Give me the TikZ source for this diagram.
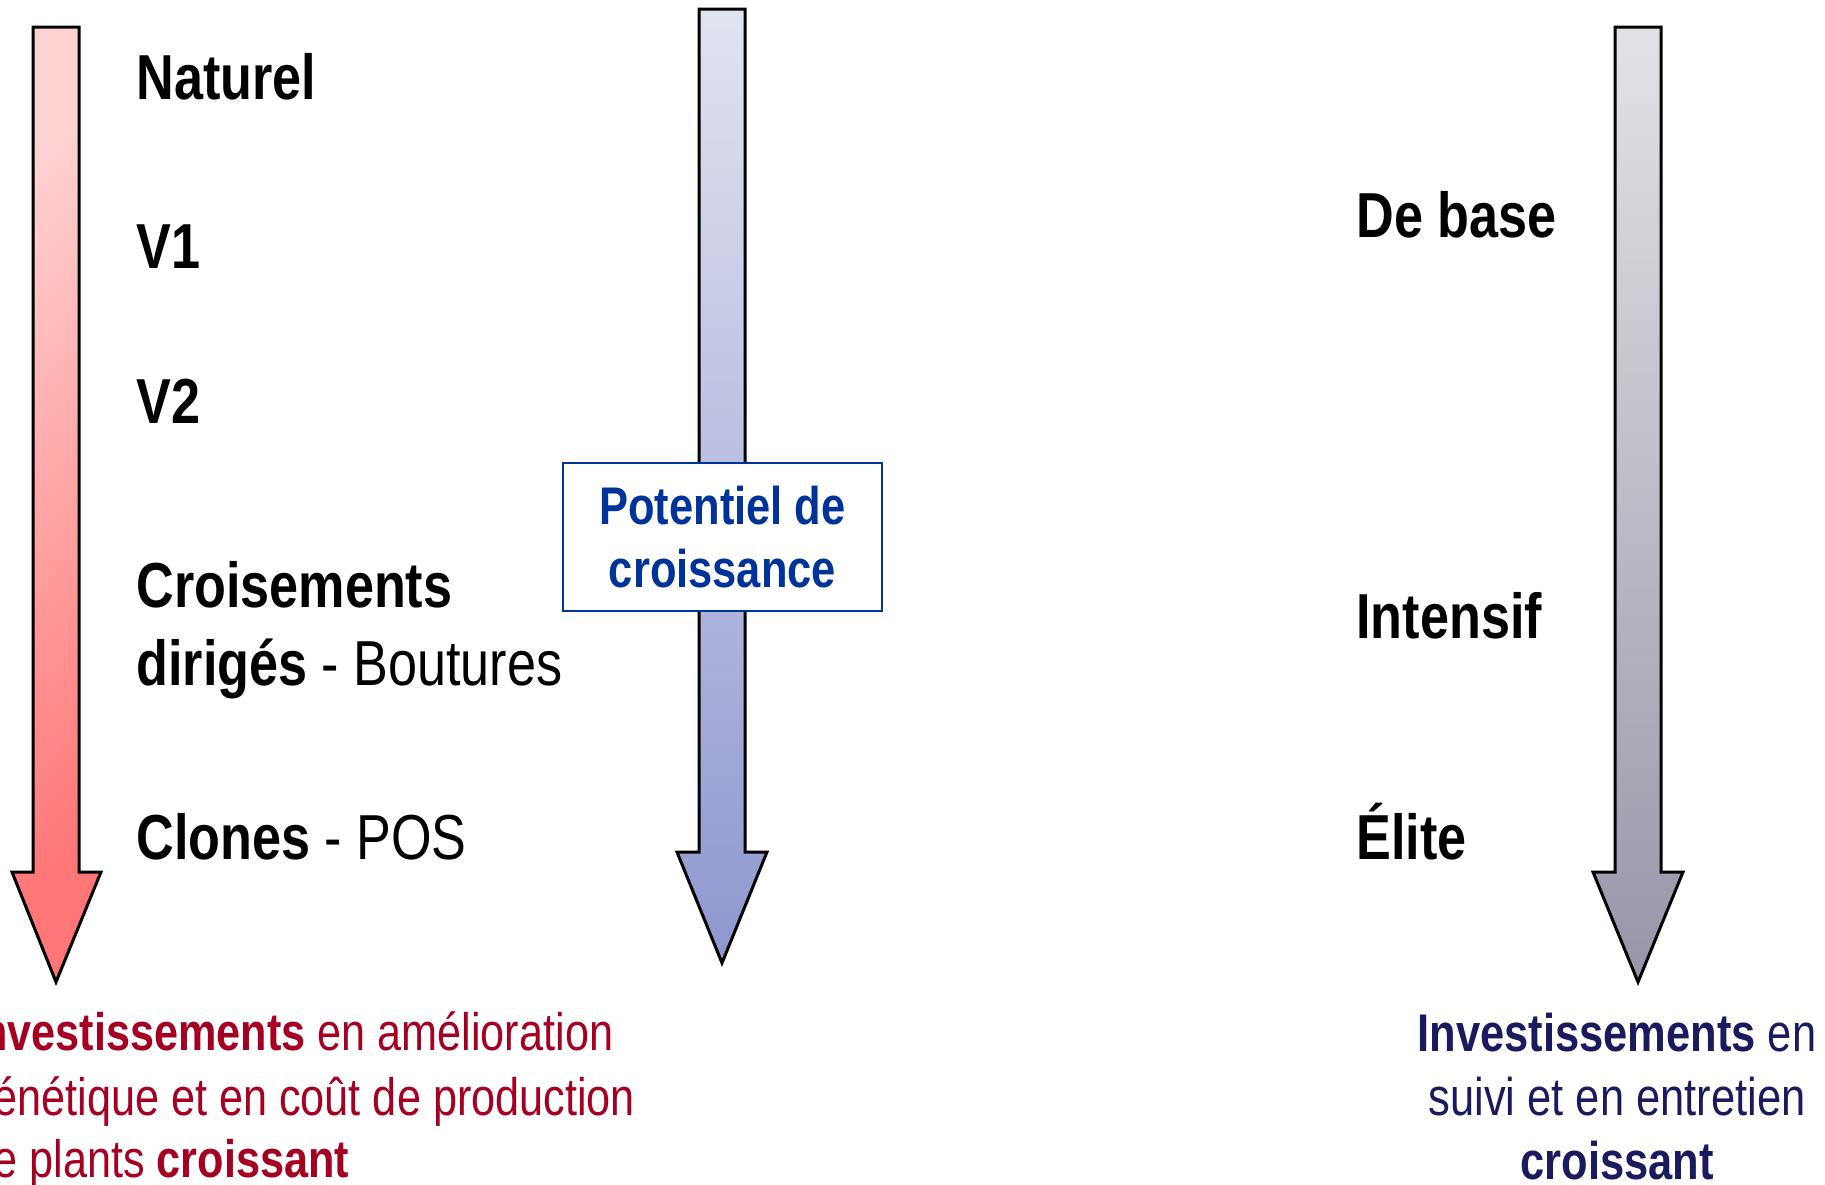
\documentclass[tikz,border=0pt]{standalone}
\usepackage{fontspec}
\setmainfont{Liberation Sans}[FakeStretch=0.82]
\definecolor{redtxt}{HTML}{A50021}
\definecolor{navytxt}{HTML}{1A1A5E}
\definecolor{boxblue}{HTML}{003399}
\definecolor{redA}{HTML}{FFD2D2}
\definecolor{redB}{HTML}{FF7676}
\definecolor{bluA}{HTML}{E2E3F0}
\definecolor{bluB}{HTML}{8E97CF}
\definecolor{gryA}{HTML}{E2E2E6}
\definecolor{gryB}{HTML}{9696A8}
\tikzset{
  bigarrow/.style={draw=black,line width=1.5pt,line join=miter},
  lbl/.style={anchor=base west,inner sep=0pt,font=\fontsize{31.8}{38}\selectfont},
  redline/.style={anchor=base west,inner sep=0pt,text=redtxt,font=\fontsize{26.35}{32}\selectfont},
  navyline/.style={anchor=base,inner sep=0pt,text=navytxt,font=\fontsize{26.5}{32}\selectfont},
}
\begin{document}
\begin{tikzpicture}[x=0.5pt,y=-0.5pt]
\useasboundingbox (0,0) rectangle (1825,1184);
% arrows
\path[bigarrow,top color=redA,bottom color=redB,shading angle=45]
  (33,27) -- (79,27) -- (79,872) -- (101,872) -- (56,982) -- (12,872) -- (33,872) -- cycle;
\path[bigarrow,top color=bluA,bottom color=bluB]
  (699,9) -- (745,9) -- (745,852) -- (767,852) -- (722,963) -- (677,852) -- (699,852) -- cycle;
\path[bigarrow,top color=gryA,bottom color=gryB]
  (1615,27) -- (1661,27) -- (1661,872) -- (1683,872) -- (1638,982) -- (1593,872) -- (1615,872) -- cycle;
% box
\node[draw=boxblue,line width=1pt,fill=white,minimum width=159.5pt,minimum height=74pt,
      inner sep=0pt,align=center,text=boxblue,font=\bfseries\fontsize{26.5}{31.5}\selectfont]
  (box) at (722.5,537) {Potentiel de\\croissance};
% left labels
\node[lbl] (nat) at (136,99) {\bfseries Naturel};
\node[lbl] (v1) at (136,268) {\bfseries V1};
\node[lbl] (v2) at (136,423) {\bfseries V2};
\node[lbl] (cr1) at (136,607) {\bfseries Croisements};
\node[lbl] (cr2) at (136,685) {\textbf{dirigés} - Boutures};
\node[lbl] (cl) at (136,859) {\textbf{Clones} - POS};
% right labels
\node[lbl] (base) at (1356,237) {\bfseries De base};
\node[lbl] (int) at (1356,638) {\bfseries Intensif};
\node[lbl] (eli) at (1356,859) {\bfseries Élite};
% bottom red
\node[redline] (r1) at (-31,1050) {\textbf{Investissements} en amélioration};
\node[redline] (r2) at (-31,1115) {génétique et en coût de production};
\node[redline] (r3) at (-31,1177) {de plants \textbf{croissant}};
% bottom navy
\node[navyline] (n1) at (1617,1051) {\textbf{Investissements} en};
\node[navyline] (n2) at (1617,1115) {suivi et en entretien};
\node[navyline] (n3) at (1617,1179) {\textbf{croissant}};
\end{tikzpicture}
\end{document}
